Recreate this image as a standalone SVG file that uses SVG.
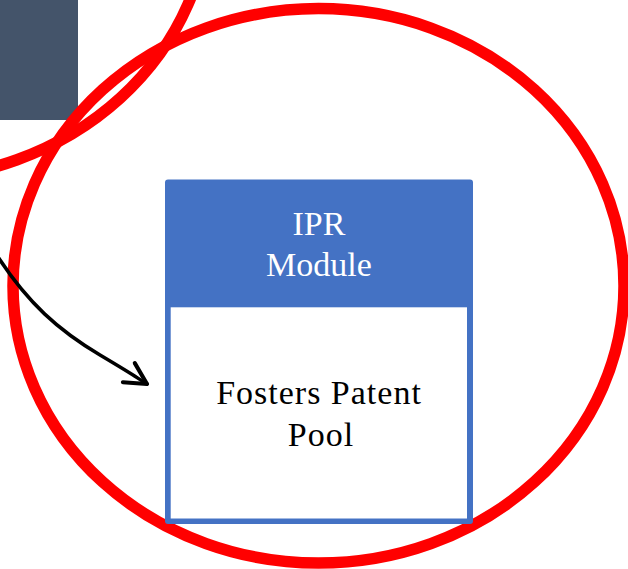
<svg xmlns="http://www.w3.org/2000/svg" width="628" height="569" viewBox="0 0 628 569">
  <style>
    .ring { fill: none; stroke: #FF0000; stroke-width: 11.5; }
    .module-frame { fill: #4472C4; }
    .module-body { fill: #FFFFFF; }
    .title { font-family: "Liberation Serif", "Times New Roman", serif; font-size: 34px; fill: #FFFFFF; text-anchor: middle; }
    .body-text { font-family: "Liberation Serif", "Times New Roman", serif; font-size: 34px; fill: #000000; text-anchor: middle; letter-spacing: 1px; }
    .link { fill: none; stroke: #000000; stroke-width: 3.5; stroke-linecap: round; }
  </style>
  <defs>
    <marker id="open-arrow" markerUnits="userSpaceOnUse" markerWidth="30" markerHeight="30" viewBox="-24 -14 28 28" refX="0" refY="0" orient="auto">
      <path d="M -20,-10.5 L 0,0 L -20,10.5" fill="none" stroke="#000000" stroke-width="3.8" stroke-linecap="round" stroke-linejoin="round"/>
    </marker>
  </defs>

  <!-- dark block at the top-left edge -->
  <g id="dark-block">
    <rect x="0" y="0" width="78" height="120" fill="#44546A"/>
  </g>

  <!-- red highlight rings -->
  <g id="highlight-rings">
    <ellipse class="ring" cx="-95" cy="-98" rx="304.5" ry="277.2"/>
    <ellipse class="ring" cx="318.5" cy="285.8" rx="305.5" ry="277.2"/>
  </g>

  <!-- IPR module card -->
  <g id="ipr-module">
    <rect class="module-frame" x="165" y="179.5" width="308" height="344.5" rx="3"/>
    <rect class="module-body" x="170.7" y="307.3" width="296.3" height="211.2"/>
    <text class="title" x="319" y="235">IPR</text>
    <text class="title" x="319" y="276">Module</text>
    <text class="body-text" x="319" y="404">Fosters Patent</text>
    <text class="body-text" x="321" y="446">Pool</text>
  </g>

  <!-- connectors -->
  <g id="connectors">
    <path class="link" d="M -2,257 C 28,303 58,330 100,355 S 131,374 147,384" marker-end="url(#open-arrow)"/>
  </g>
</svg>
